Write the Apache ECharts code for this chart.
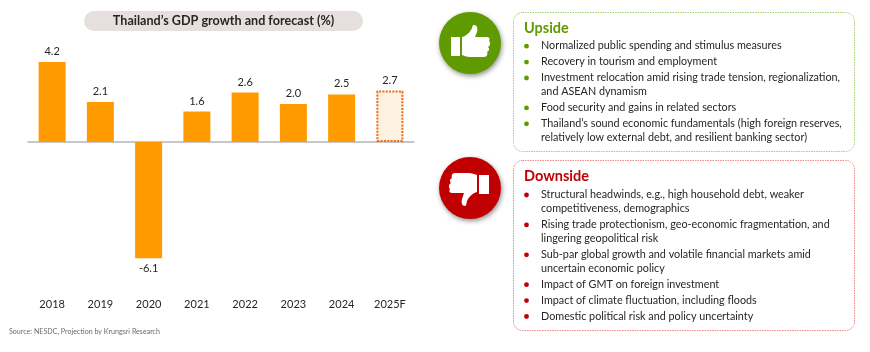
<!DOCTYPE html>
<html><head><meta charset="utf-8">
<style>html,body{margin:0;padding:0;background:#fff}#c{width:870px;height:352px}</style>
<script src="https://cdn.jsdelivr.net/npm/echarts@6/dist/echarts.min.js"></script>
</head><body><div id="c"></div>
<script>
const categories = ['2018','2019','2020','2021','2022','2023','2024','2025F'];
const gdpGrowth = [4.2,2.1,-6.1,1.6,2.6,2.0,2.5,2.7];
const chartTitle = 'Thailand\u2019s GDP growth and forecast (%)';
const sourceNote = 'Source: NESDC, Projection by Krungsri Research';
const upsideTitle = 'Upside';
const upsideItems = [
 ['Normalized public spending and stimulus measures'],
 ['Recovery in tourism and employment'],
 ['Investment relocation amid rising trade tension, regionalization,','and ASEAN dynamism'],
 ['Food security and gains in related sectors'],
 ['Thailand\u2019s sound economic fundamentals (high foreign reserves,','relatively low external debt, and resilient banking sector)']
];
const downsideTitle = 'Downside';
const downsideItems = [
 ['Structural headwinds, e.g., high household debt, weaker','competitiveness, demographics'],
 ['Rising trade protectionism, geo-economic fragmentation, and','lingering geopolitical risk'],
 ['Sub-par global growth and volatile financial markets amid','uncertain economic policy'],
 ['Impact of GMT on foreign investment'],
 ['Impact of climate fluctuation, including floods'],
 ['Domestic political risk and policy uncertainty']
];
const FONT='Lato, Carlito, "Open Sans", sans-serif';
const GREEN='#5f9a00', RED='#c00000', TXT='#262626';

function panel(x,y,w,h,color){
  return {type:'rect',shape:{x,y,width:w,height:h,r:9},style:{fill:'#fff',stroke:color,lineWidth:1,lineDash:[1.5,1]}};
}
function listEls(items,startY,color){
  const out=[];let y=startY;
  items.forEach(lines=>{
    out.push({type:'circle',shape:{cx:526.5,cy:y+0.5,r:2.4},style:{fill:color}});
    lines.forEach((t,i)=>{
      out.push({type:'text',x:541,y:y,scaleX:0.965,style:{text:t,fill:TXT,font:'11.2px '+FONT,textVerticalAlign:'middle',textAlign:'left'}});
      if(i<lines.length-1) y+=14;
    });
    y+=15.9;
  });
  return out;
}
const thumbUp='M462 37 C466 36 469 33 471 30 C473 27 472 25 474 25 C477 25 478 28 477 32 L475 37 L487 37 C490 37 490 40 489 41 C491 43 490 46 488 47 C490 49 489 51 487 52 C488 54 487 57 484 57 L470 57 C467 57 465 56 462 55 Z';
const thumbDown='M477 192 C473 193 470 196 468 199 C466 202 467 206 465 206 C462 206 461 203 462 199 L464 193 L452 193 C449 193 449 190 450 189 C448 187 449 184 451 183 C449 181 450 179 452 178 C451 176 452 173 455 173 L469 173 C472 173 474 174 477 175 Z';
echarts.graphic.registerShape('thumbUpShape',echarts.graphic.extendPath(thumbUp,{}));
echarts.graphic.registerShape('thumbDownShape',echarts.graphic.extendPath(thumbDown,{}));

const graphic=[
 {type:'rect',shape:{x:84,y:11,width:279,height:20,r:10},style:{fill:'#e7dfdd'}},
 {type:'text',x:223.5,y:21,style:{text:chartTitle,fill:TXT,font:'bold 12.6px '+FONT,textAlign:'center',textVerticalAlign:'middle'}},
 {type:'text',x:9,y:331.5,style:{text:sourceNote,fill:'#6b6b6b',font:'7.1px '+FONT,textAlign:'left',textVerticalAlign:'middle'}},
 panel(513.5,12.5,341,139,'#a9cf73'),
 panel(513.5,160.5,341,170,'#ec8a8a'),
 {type:'text',x:524,y:28,style:{text:upsideTitle,fill:GREEN,font:'bold 14.5px '+FONT,textAlign:'left',textVerticalAlign:'middle'}},
 {type:'text',x:524,y:176,style:{text:downsideTitle,fill:RED,font:'bold 14.5px '+FONT,textAlign:'left',textVerticalAlign:'middle'}},
 ...listEls(upsideItems,45.7,GREEN),
 ...listEls(downsideItems,194.5,RED),
 {type:'circle',shape:{cx:470,cy:43,r:31},style:{fill:GREEN,shadowBlur:5,shadowColor:'rgba(0,0,0,.45)',shadowOffsetX:1,shadowOffsetY:2}},
 {type:'rect',shape:{x:451,y:37,width:9,height:19},style:{fill:'#fff'}},
 {type:'thumbUpShape',style:{fill:'#fff'}},
 {type:'circle',shape:{cx:470,cy:188,r:31},style:{fill:RED,shadowBlur:5,shadowColor:'rgba(0,0,0,.45)',shadowOffsetX:1,shadowOffsetY:2}},
 {type:'rect',shape:{x:479,y:175,width:10,height:19},style:{fill:'#fff'}},
 {type:'thumbDownShape',style:{fill:'#fff'}}
];
const chart=echarts.init(document.getElementById('c'),null,{renderer:'canvas'});
chart.setOption({
 animation:false,
 backgroundColor:'#fff',
 grid:{left:28,width:386,top:46.75,height:247.65,containLabel:false},
 xAxis:[
  {type:'category',data:categories,position:'bottom',axisLine:{show:false,onZero:false},axisTick:{show:false},
   axisLabel:{color:TXT,fontSize:11,fontFamily:FONT,margin:5}},
  {type:'category',data:categories,position:'top',axisLine:{show:true,onZero:true,lineStyle:{color:'#b5b5b5',width:1.5}},axisTick:{show:false},axisLabel:{show:false}}
 ],
 yAxis:{type:'value',min:-8,max:5,interval:1,show:false,splitLine:{show:false}},
 series:[{type:'bar',xAxisIndex:0,barWidth:27,z:3,
  data:gdpGrowth.map((v,i)=>categories[i].endsWith('F')
    ?{value:v,itemStyle:{color:'#fdf1e1',borderColor:'#f26a14',borderWidth:2,borderType:[2,1.3]}}
    :{value:v,itemStyle:{color:'#ff9a00'}}),
  label:{show:true,position:'outside',distance:5,color:TXT,fontSize:11,fontFamily:FONT,formatter:p=>p.value.toFixed(1)}
 }],
 graphic:{elements:graphic}
});
</script></body></html>
